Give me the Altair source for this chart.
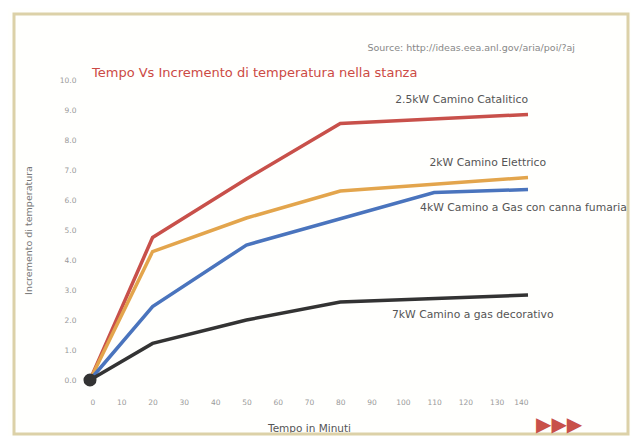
import altair as alt
import pandas as pd

# ---- data ----
series_names = ["Catalitico", "Elettrico", "Gas canna", "Gas decorativo"]
red_x = [0, 20, 50, 80, 140]
red_y = [0, 4.75, 6.7, 8.55, 8.85]
orange_x = [0, 20, 50, 80, 140]
orange_y = [0, 4.28, 5.4, 6.3, 6.75]
blue_x = [0, 20, 50, 110, 140]
blue_y = [0, 2.45, 4.5, 6.25, 6.35]
black_x = [0, 20, 50, 80, 140]
black_y = [0, 1.22, 2.0, 2.6, 2.83]
series_colors = ["#c8504a", "#e3a54c", "#4a74bd", "#333333"]

x_ticks = list(range(0, 141, 10))
y_ticks = list(range(0, 11))

label_texts = ["2.5kW  Camino Catalitico", "2kW  Camino Elettrico",
               "4kW Camino a Gas con canna fumaria", "7kW  Camino a gas decorativo"]
label_x = [140, 108.5, 105.5, 96.5]
label_y = [9.33, 7.25, 5.73, 2.17]
label_align = ["right", "left", "left", "left"]

title_text = "Tempo Vs Incremento di temperatura nella stanza"
source_text = "Source: http://ideas.eea.anl.gov/aria/poi/?aj"

rows = []
for name, xs, ys in zip(series_names,
                        [red_x, orange_x, blue_x, black_x],
                        [red_y, orange_y, blue_y, black_y]):
    for xv, yv in zip(xs, ys):
        rows.append({"serie": name, "min": xv, "inc": yv})
df = pd.DataFrame(rows)

labels = pd.DataFrame({"t": label_texts, "x": label_x, "y": label_y, "a": label_align})
origin = pd.DataFrame({"min": [0], "inc": [0]})
one = pd.DataFrame({"k": [0]})

FONT = "DejaVu Sans"

xscale = alt.Scale(domain=[0, 140], nice=False)
yscale = alt.Scale(domain=[0, 10], nice=False)

xaxis = alt.Axis(values=x_ticks, title="Tempo in Minuti", grid=False, domain=False,
                 ticks=False, labelFontSize=7.5, labelColor="#9a9a9a",
                 labelOverlap=False, labelPadding=18, titleFontSize=10.5,
                 titleColor="#555", titleFontWeight="normal", titlePadding=18,
                 labelFont=FONT, titleFont=FONT)
yaxis = alt.Axis(values=y_ticks, format=".1f", title="Incremento di temperatura",
                 grid=False, domain=False, ticks=False, labelFontSize=7.5,
                 labelColor="#9a9a9a", labelOverlap=False, labelPadding=14,
                 titleFontSize=9.5, titleColor="#777", titleFontWeight="normal",
                 titlePadding=26, labelFont=FONT, titleFont=FONT)

lines = alt.Chart(df).mark_line(strokeWidth=3.5).encode(
    x=alt.X("min:Q", scale=xscale, axis=xaxis),
    y=alt.Y("inc:Q", scale=yscale, axis=yaxis),
    color=alt.Color("serie:N", scale=alt.Scale(domain=series_names, range=series_colors),
                    legend=None),
    order="min:Q",
)

dot = alt.Chart(origin).mark_circle(size=170, color="#333333", opacity=1).encode(
    x=alt.X("min:Q", scale=xscale, axis=xaxis), y=alt.Y("inc:Q", scale=yscale, axis=yaxis))

def lab(align):
    return alt.Chart(labels[labels.a == align]).mark_text(
        align=align, baseline="middle", fontSize=10.8, color="#555", font=FONT
    ).encode(x=alt.X("x:Q", scale=xscale, axis=xaxis),
             y=alt.Y("y:Q", scale=yscale, axis=yaxis), text="t:N")

frame = alt.Chart(one).mark_rect(fill="transparent", stroke="#dcd1a8", strokeWidth=3).encode(
    x=alt.value(-76), x2=alt.value(538), y=alt.value(-66), y2=alt.value(354))

title = alt.Chart(one).mark_text(align="left", baseline="middle", fontSize=13,
                                  color="#cc4a44", font=FONT).encode(
    x=alt.value(2), y=alt.value(-7), text=alt.value(title_text))

source = alt.Chart(one).mark_text(align="right", baseline="middle", fontSize=9.5,
                                   color="#888", font=FONT).encode(
    x=alt.value(485), y=alt.value(-32), text=alt.value(source_text))

arrows = alt.Chart(one).mark_text(align="left", baseline="middle", fontSize=20,
                                   color="#c8504a", font="DejaVu Sans").encode(
    x=alt.value(446), y=alt.value(345), text=alt.value("▶▶▶"))

chart = alt.layer(lines, frame, dot, lab("right"), lab("left"), title, source, arrows).properties(
    width=438, height=300,
    autosize=alt.AutoSizeParams(type="none"),
    padding={"left": 82, "top": 72, "right": 103, "bottom": 56},
    background="#fffffd",
).configure_view(stroke=None)

chart.save("out.html", embed_options={"renderer": "svg", "actions": False})
